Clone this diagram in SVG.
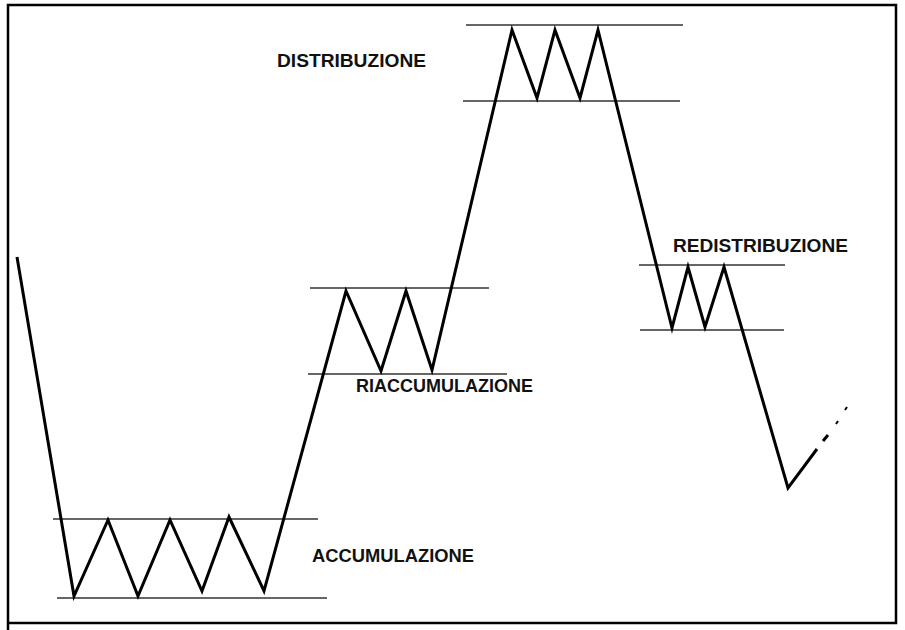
<svg xmlns="http://www.w3.org/2000/svg" width="905" height="630" viewBox="0 0 905 630">
<style>
.frame{fill:none;stroke:#000;stroke-width:2.5}
.band{stroke:#333;stroke-width:1.5;fill:none}
.price{fill:none;stroke:#000;stroke-width:3;stroke-linejoin:miter;stroke-miterlimit:10}
.lbl{font-family:"Liberation Sans",Arial,sans-serif;font-size:18px;font-weight:bold;fill:#111}
</style>
<rect x="0" y="0" width="905" height="630" fill="#fff"/>
<g id="frame">
<polyline class="frame" points="8,630 8,5 896,5 896,623 8,623"/>
</g>
<g id="accumulazione">
<line class="band" x1="53" y1="519" x2="318" y2="519"/>
<line class="band" x1="57" y1="598" x2="327" y2="598"/>
<text class="lbl" x="312" y="562" textLength="162" lengthAdjust="spacingAndGlyphs">ACCUMULAZIONE</text>
</g>
<g id="riaccumulazione">
<line class="band" x1="310" y1="288" x2="489" y2="288"/>
<line class="band" x1="308" y1="374" x2="507" y2="374"/>
<text class="lbl" x="356" y="392" textLength="177" lengthAdjust="spacingAndGlyphs">RIACCUMULAZIONE</text>
</g>
<g id="distribuzione">
<line class="band" x1="466" y1="25" x2="683" y2="25"/>
<line class="band" x1="463" y1="101" x2="680" y2="101"/>
<text class="lbl" x="277" y="67" textLength="149" lengthAdjust="spacingAndGlyphs">DISTRIBUZIONE</text>
</g>
<g id="redistribuzione">
<line class="band" x1="639" y1="265" x2="785" y2="265"/>
<line class="band" x1="640" y1="330" x2="784" y2="330"/>
<text class="lbl" x="673" y="252" textLength="175" lengthAdjust="spacingAndGlyphs">REDISTRIBUZIONE</text>
</g>
<g id="connectors">
<polyline class="price" points="17,257 74,596 108,520 138,596 170,520 202,591 229,517 264,591 346,291 381,371 406,291 432,370 512,30 537,98 555,30 580,98 598,30 672,328 688,267 705,327 724,267 788,488 817,449"/>
<line x1="823" y1="441" x2="828" y2="435" stroke="#000" stroke-width="3"/>
<line x1="836" y1="424" x2="838" y2="421" stroke="#000" stroke-width="2"/>
<line x1="845" y1="410" x2="847" y2="407" stroke="#000" stroke-width="2"/>
</g>
</svg>
